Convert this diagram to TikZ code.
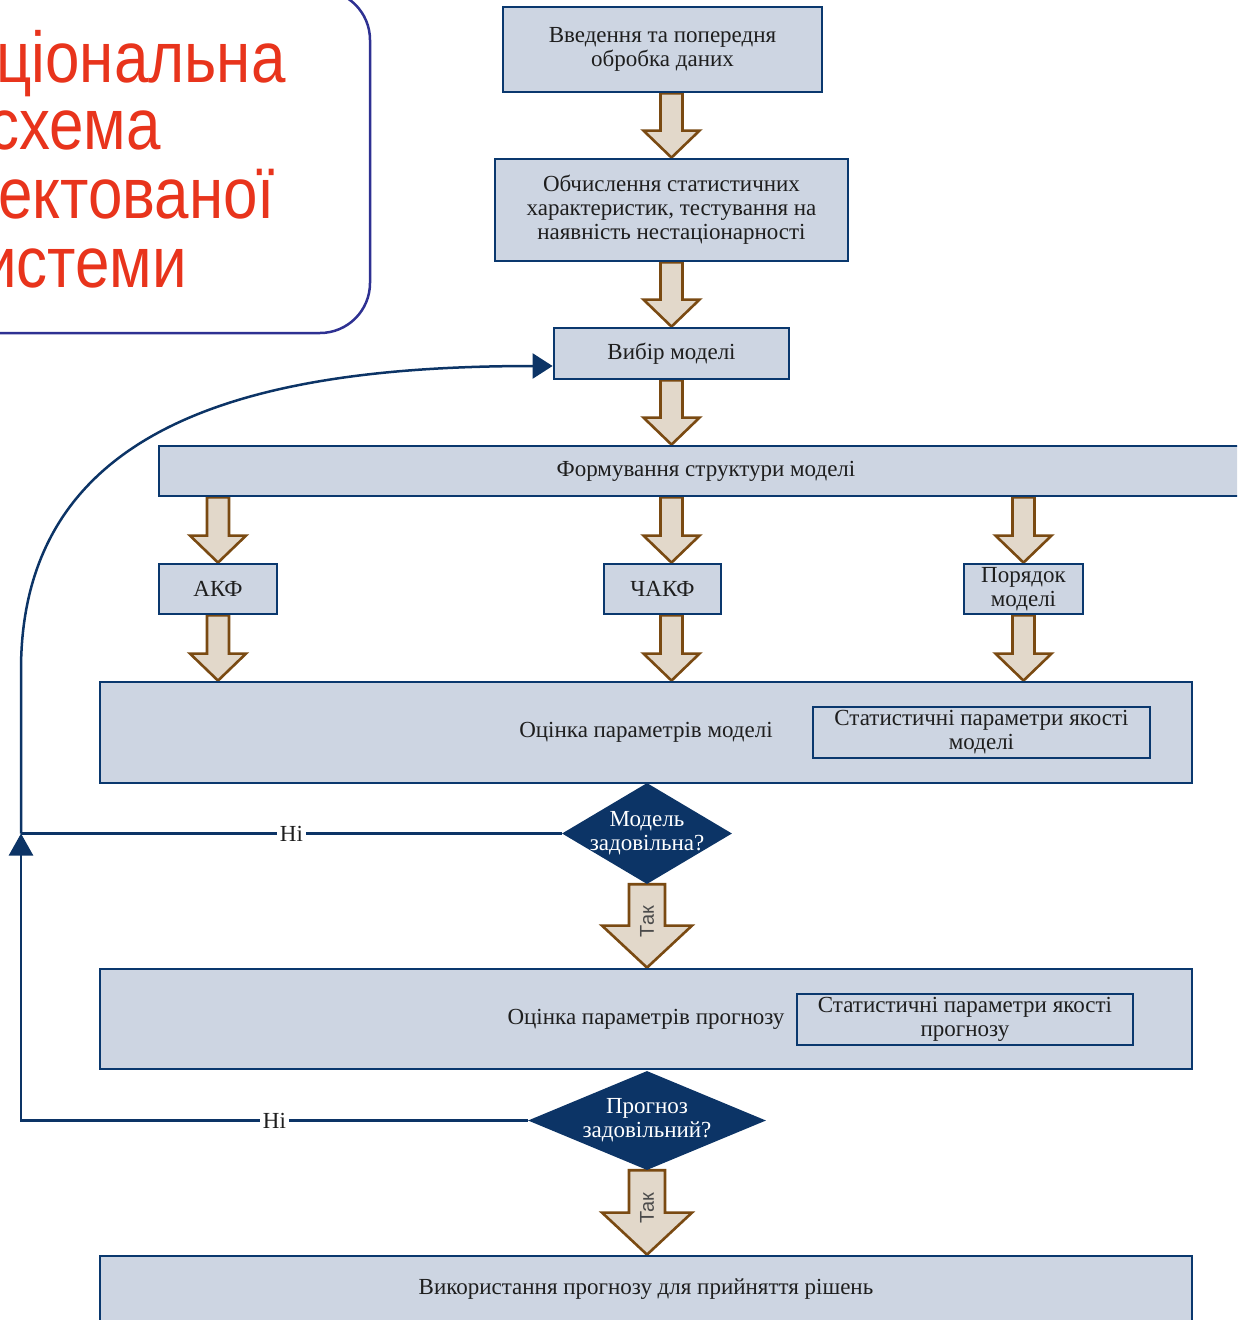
\documentclass[tikz,border=0pt]{standalone}
\usepackage{fontspec}
\setmainfont{Liberation Serif}
\newfontfamily\titlefont{Liberation Sans}[FakeStretch=0.86]
\newfontfamily\takfont{Liberation Sans}
\usetikzlibrary{arrows.meta,shapes.geometric,calc,backgrounds}
\definecolor{navy}{RGB}{12,52,102}
\definecolor{boxline}{RGB}{10,56,110}
\definecolor{boxfill}{RGB}{205,213,226}
\definecolor{arrfill}{RGB}{226,216,202}
\definecolor{arrline}{RGB}{122,74,18}
\definecolor{txt}{RGB}{30,30,30}
\definecolor{titlered}{RGB}{232,52,28}
\definecolor{titleline}{RGB}{46,49,146}
\tikzset{
  box/.style={draw=boxline, fill=boxfill, line width=2.8pt, inner sep=0pt, align=center,
    font=\fontsize{23}{24}\selectfont, text=txt},
  dia/.style={diamond, draw=none, fill=navy, inner sep=0pt},
  diatext/.style={align=center, text=white, font=\fontsize{23}{24}\selectfont, inner sep=0pt},
  nolab/.style={fill=white, inner sep=3pt, text=txt, font=\fontsize{23}{24}\selectfont},
  conn/.style={draw=navy, line width=2.5pt},
  tak/.style={rotate=90, text=txt!80, font=\takfont\fontsize{20}{20}\selectfont, inner sep=0pt},
  titletext/.style={anchor=base west, text=titlered, font=\titlefont\fontsize{72}{68}\selectfont, inner sep=0pt},
  barrow/.style n args={3}{draw=arrline, fill=arrfill, line width=2.6pt, line join=miter,
    to path={let \p1=(\tikztostart), \p2=(\tikztotarget) in
      (\x1-#1,\y1) -- (\x1+#1,\y1) -- (\x1+#1,\y2+#3) -- (\x1+#2,\y2+#3) -- (\x1,\y2)
      -- (\x1-#2,\y2+#3) -- (\x1-#1,\y2+#3) -- cycle}},
  sba/.style={barrow={11pt}{28pt}{27pt}},
  bba/.style={barrow={18pt}{45pt}{42pt}},
}
\begin{document}
\begin{tikzpicture}[x=1pt,y=-1pt]
\useasboundingbox (0,0) rectangle (1237,1320);
\clip (0,0) rectangle (1237,1320);

% title panel
\draw[draw=titleline, line width=2.5pt, rounded corners=50pt] (-100,-10) rectangle (370,333);
\node[titletext] (t1) at (-4,82) {ціональна};
\node[titletext] (t2) at (-12,149) {схема};
\node[titletext] (t3) at (-2,218) {ектованої};
\node[titletext] (t4) at (-18,287) {истеми};

% boxes
\node[box, minimum width=319, minimum height=85] (n1) at (662.5,49.5) {Введення та попередня\\обробка даних};
\node[box, minimum width=353, minimum height=102] (n2) at (671.5,210) {Обчислення статистичних\\характеристик, тестування на\\наявність нестаціонарності};
\node[box, minimum width=235, minimum height=51] (vib) at (671.5,353.5) {Вибір моделі};
\node[box, minimum width=1094, minimum height=50] (form) at (706,471) {Формування структури моделі};
\node[box, minimum width=118, minimum height=50] (akf) at (218,589) {АКФ};
\node[box, minimum width=117, minimum height=50] (chakf) at (662.5,589) {ЧАКФ};
\node[box, minimum width=119, minimum height=50] (por) at (1023.5,589) {Порядок\\моделі};
\node[box, minimum width=1092, minimum height=101] (ocm) at (646,732.5) {Оцінка параметрів моделі};
\node[box, minimum width=337, minimum height=51] (sm) at (981.5,732.5) {Статистичні параметри якості\\моделі};
\node[dia, minimum width=170, minimum height=101] (d1) at (647,833.5) {};
\node[diatext] (d1t) at (d1.center) {Модель\\задовільна?};
\node[box, minimum width=1092, minimum height=100] (ocp) at (646,1019) {Оцінка параметрів прогнозу};
\node[box, minimum width=336, minimum height=51] (sp) at (965,1019.5) {Статистичні параметри якості\\прогнозу};
\node[dia, minimum width=238, minimum height=99] (d2) at (647,1120.5) {};
\node[diatext] (d2t) at (d2.center) {Прогноз\\задовільний?};
\node[box, minimum width=1092, minimum height=66] (use) at (646,1289) {Використання прогнозу для прийняття рішень};

% block arrows
\begin{pgfonlayer}{background}
\draw[sba] (n2.north |- n1.south) to (n2.north);
\draw[sba] (vib.north |- n2.south) to (vib.north);
\draw[sba] (vib.south) to (vib.south |- form.north);
\draw[sba] (akf.north |- form.south) to (akf.north);
\draw[sba] (vib.south |- form.south) to (vib.south |- chakf.north);
\draw[sba] (por.north |- form.south) to (por.north);
\draw[sba] (akf.south) to (akf.south |- ocm.north);
\draw[sba] (vib.south |- chakf.south) to (vib.south |- ocm.north);
\draw[sba] (por.south) to (por.south |- ocm.north);
\draw[bba] (d1.south) to (d1.south |- ocp.north);
\draw[bba] (d2.south) to (d2.south |- use.north);
\end{pgfonlayer}
\path (d1.south) -- node[tak, pos=0.45] {Так} (d1.south |- ocp.north);
\path (d2.south) -- node[tak, pos=0.45] {Так} (d2.south |- use.north);

% feedback connectors
\coordinate (j) at (21,833.5);
\coordinate (c2) at (21,1120.5);
\coordinate (c1) at (21,670);
\coordinate (vin) at ($(vib.west)+(0,12.5)$);
\draw[conn] (d1.west) -- node[nolab]{Ні} (j);
\draw[conn, -{Triangle[length=22pt,width=24pt]}] (d2.west) -- node[nolab]{Ні} (c2) -- (j);
\draw[conn, -{Triangle[length=20pt,width=25pt]}] (j) -- (c1) .. controls (21,420) and (260,366) .. (vin);
\end{tikzpicture}
\end{document}
